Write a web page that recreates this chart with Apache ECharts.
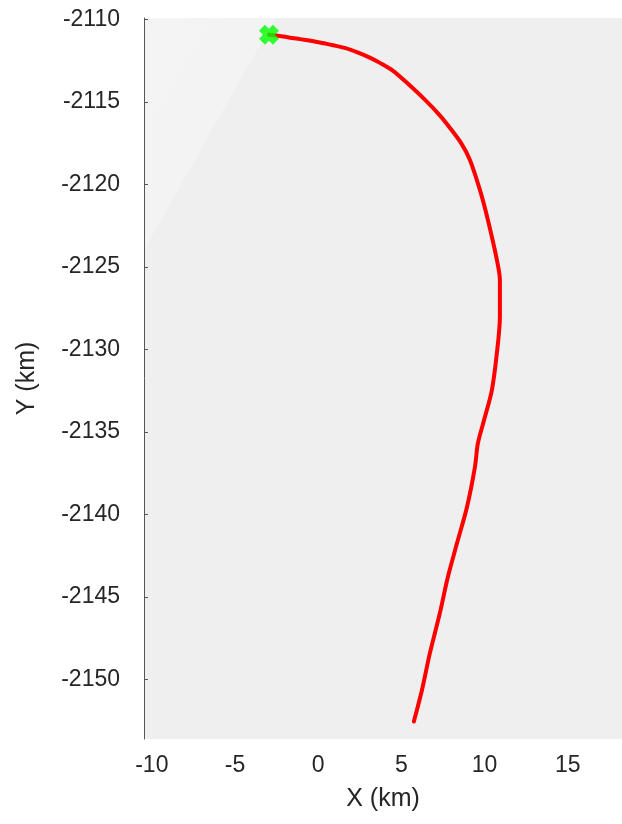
<!DOCTYPE html>
<html>
<head>
<meta charset="utf-8">
<script src="https://cdn.jsdelivr.net/npm/echarts@6/dist/echarts.min.js"></script>
<style>
html,body{margin:0;padding:0;background:#fff;}
#c{width:622px;height:824px;}
</style>
</head>
<body>
<div id="c"></div>
<script>
// Track (km)
var trackX = [-2.96, -2.42, -1.10, 0.10, 0.90, 1.70, 2.40, 3.10, 3.71, 4.50, 5.30, 6.41, 7.31, 7.91, 8.60, 9.12, 9.72, 10.20, 10.74, 10.92, 10.92, 10.74, 10.44, 10.02, 9.60, 9.42, 8.94, 8.34, 7.79, 7.31, 6.71, 6.23, 5.75];
var trackY = [-2110.91, -2110.97, -2111.18, -2111.38, -2111.55, -2111.74, -2112.00, -2112.30, -2112.62, -2113.10, -2113.80, -2114.85, -2115.80, -2116.55, -2117.50, -2118.50, -2120.32, -2122.14, -2124.56, -2125.78, -2128.02, -2130.21, -2132.45, -2134.09, -2135.67, -2137.12, -2139.55, -2141.74, -2143.80, -2145.98, -2148.41, -2150.66, -2152.54];
var startX = [-2.96];
var startY = [-2110.91];
var xTicks = [-10, -5, 0, 5, 10, 15];
var yTicks = [-2150, -2145, -2140, -2135, -2130, -2125, -2120, -2115, -2110];

var lineData = trackX.map(function (v, i) { return [v, trackY[i]]; });
var startData = startX.map(function (v, i) { return [v, startY[i]]; });

var font = 'Liberation Sans, Arial, Helvetica, sans-serif';
var chart = echarts.init(document.getElementById('c'), null, {renderer: 'canvas'});
chart.setOption({
  animation: false,
  backgroundColor: '#ffffff',
  grid: {
    left: 144, top: 18, right: 0, bottom: 85,
    show: true,
    borderWidth: 0,
    backgroundColor: {
      type: 'linear', x: 0, y: 0, x2: 0.416, y2: 0.156,
      colorStops: [
        {offset: 0, color: '#f4f4f4'},
        {offset: 0.5, color: '#f3f3f3'},
        {offset: 0.5, color: '#efefef'},
        {offset: 1, color: '#efefef'}
      ]
    }
  },
  xAxis: {
    type: 'value',
    min: -10.47, max: 18.26,
    name: 'X (km)',
    nameLocation: 'middle',
    nameGap: 48,
    nameTextStyle: {fontFamily: font, fontSize: 25, color: '#262626'},
    axisLine: {show: false, onZero: false},
    axisTick: {show: false, customValues: xTicks},
    splitLine: {show: false},
    axisLabel: {customValues: xTicks, fontFamily: font, fontSize: 23, color: '#262626', margin: 15,
      formatter: function (v) { return String(v); }}
  },
  yAxis: {
    type: 'value',
    min: -2153.6, max: -2109.9,
    name: 'Y (km)',
    nameLocation: 'middle',
    nameGap: 104,
    nameRotate: 90,
    nameTextStyle: {fontFamily: font, fontSize: 25, color: '#262626'},
    axisLine: {show: true, onZero: false, lineStyle: {color: '#555555', width: 1}},
    axisTick: {show: true, inside: true, length: 4, customValues: yTicks, lineStyle: {color: '#555555'}},
    splitLine: {show: false},
    axisLabel: {customValues: yTicks, fontFamily: font, fontSize: 23, color: '#262626', margin: 24,
      formatter: function (v) { return String(v); }}
  },
  series: [
    {
      type: 'line',
      data: lineData,
      smooth: 0.3,
      showSymbol: false,
      lineStyle: {color: '#ff0000', width: 4, cap: 'round', join: 'round'},
      z: 2
    },
    {
      type: 'scatter',
      data: startData,
      symbol: 'path://M3,0 L5,2 L7,0 L10,3 L8,5 L10,7 L7,10 L5,8 L3,10 L0,7 L2,5 L0,3 Z',
      symbolSize: 20,
      itemStyle: {color: '#00ff00'},
      z: 3
    }
  ]
});
</script>
</body>
</html>
